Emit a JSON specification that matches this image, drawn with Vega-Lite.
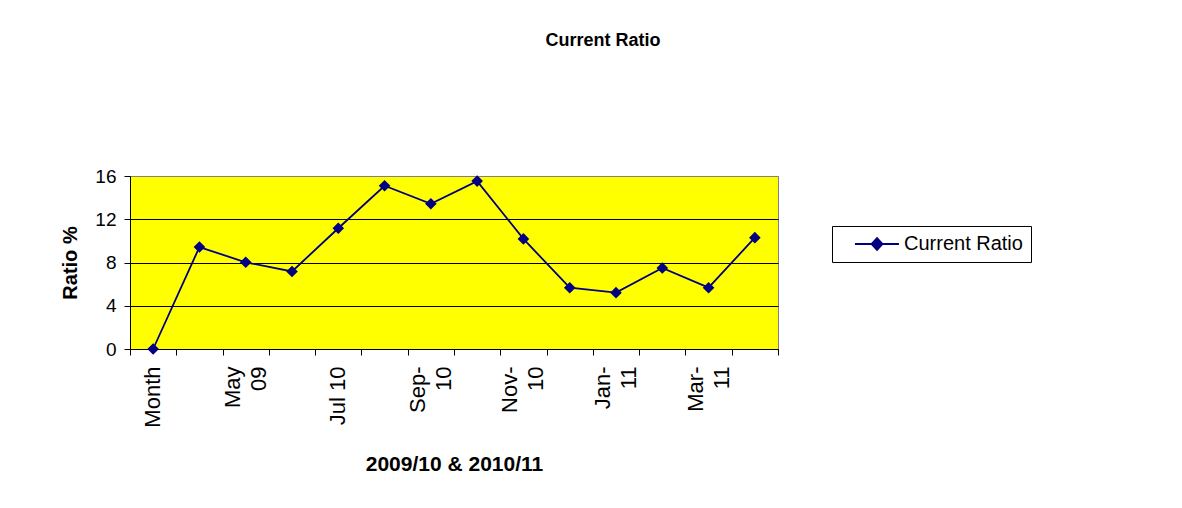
{
  "$schema": "https://vega.github.io/schema/vega-lite/v6.json",
  "width": 648,
  "height": 173,
  "autosize": {"type": "none"},
  "padding": {"left": 130, "top": 176, "right": 404, "bottom": 159},
  "background": "white",
  "config": {
    "font": "Liberation Sans",
    "view": {"fill": "#ffff00", "stroke": "#808080", "strokeWidth": 1},
    "axis": {"labelColor": "black", "titleColor": "black", "domainColor": "black", "tickColor": "black", "labelFont": "Liberation Sans", "titleFont": "Liberation Sans"}
  },
  "title": {"text": "Current Ratio", "fontSize": 18, "fontWeight": "bold", "color": "black", "anchor": "middle", "dx": 149, "offset": 117, "font": "Liberation Sans"},
  "data": {"values": [
    {"month": "Month", "ratio": 0, "series": "Current Ratio"},
    {"month": "Apr 09", "ratio": 9.43, "series": "Current Ratio"},
    {"month": "May 09", "ratio": 8.02, "series": "Current Ratio"},
    {"month": "Jun 09", "ratio": 7.17, "series": "Current Ratio"},
    {"month": "Jul 10", "ratio": 11.17, "series": "Current Ratio"},
    {"month": "Aug-10", "ratio": 15.1, "series": "Current Ratio"},
    {"month": "Sep-10", "ratio": 13.43, "series": "Current Ratio"},
    {"month": "Oct-10", "ratio": 15.53, "series": "Current Ratio"},
    {"month": "Nov-10", "ratio": 10.18, "series": "Current Ratio"},
    {"month": "Dec-10", "ratio": 5.67, "series": "Current Ratio"},
    {"month": "Jan-11", "ratio": 5.21, "series": "Current Ratio"},
    {"month": "Feb-11", "ratio": 7.49, "series": "Current Ratio"},
    {"month": "Mar-11", "ratio": 5.67, "series": "Current Ratio"},
    {"month": "Apr-11", "ratio": 10.3, "series": "Current Ratio"}
  ]},
  "layer": [
    {
      "mark": {"type": "line", "strokeWidth": 1.8, "point": {"shape": "diamond", "filled": true, "size": 135, "opacity": 1}},
      "encoding": {
        "x": {"field": "month", "type": "nominal", "sort": null, "bandPosition": 0.5,
          "scale": {"type": "band", "paddingInner": 0, "paddingOuter": 0},
          "axis": {"orient": "bottom", "tickBand": "extent", "labels": false, "title": null, "tickSize": 6, "domainWidth": 1, "grid": false}},
        "y": {"field": "ratio", "type": "quantitative",
          "scale": {"domain": [0, 16], "nice": false, "zero": true},
          "axis": {"values": [0, 4, 8, 12, 16], "grid": true,
            "gridColor": {"condition": {"test": "datum.value == 16", "value": "#808080"}, "value": "black"},
            "gridWidth": 1, "tickSize": 6, "labelFontSize": 19, "labelPadding": 8,
            "title": "Ratio %", "titleFontSize": 20, "titleFontWeight": "bold", "titlePadding": 14}},
        "color": {"field": "series", "type": "nominal", "scale": {"range": ["#000080"]},
          "legend": {"orient": "none", "legendX": 702, "legendY": 50, "title": null,
            "strokeColor": "black", "fillColor": "white", "padding": 8,
            "labelFontSize": 20, "labelColor": "black", "labelFont": "Liberation Sans",
            "symbolType": "M0.71,0H7.0M3.07,0L3.86,-0.86L4.64,0L3.86,0.86Z",
            "symbolSize": 196, "labelOffset": 44,
            "encode": {"symbols": {"update": {"fill": {"value": "#000080"}, "stroke": {"value": "#000080"}, "strokeWidth": {"value": 1.8}, "opacity": {"value": 1}}}}}}
      }
    },
    {
      "mark": {"type": "point", "opacity": 0},
      "encoding": {
        "x": {"field": "month", "type": "nominal", "sort": null,
          "scale": {"type": "band", "paddingInner": 0, "paddingOuter": 0},
          "axis": {"orient": "bottom", "values": ["Month", "May 09", "Jul 10", "Sep-10", "Nov-10", "Jan-11", "Mar-11"],
            "ticks": false, "domain": false, "grid": false,
            "labelAngle": 270, "labelAlign": "right", "labelBaseline": "middle",
            "labelFontSize": 22, "labelLineHeight": 26, "labelPadding": 17,
            "labelOffset": {"condition": {"test": "datum.value == 'May 09' || indexof(datum.value, '-') > 0", "value": -13}, "value": 0},
            "labelFlush": false, "labelOverlap": false,
            "labelExpr": "datum.value == 'May 09' ? ['May', '09'] : indexof(datum.value, '-') > 0 ? [slice(datum.value, 0, 4), slice(datum.value, 4)] : datum.value",
            "title": "2009/10 & 2010/11", "titleFontSize": 21, "titleFontWeight": "bold", "titlePadding": 26}}
      }
    }
  ],
  "resolve": {"axis": {"x": "independent"}}
}
